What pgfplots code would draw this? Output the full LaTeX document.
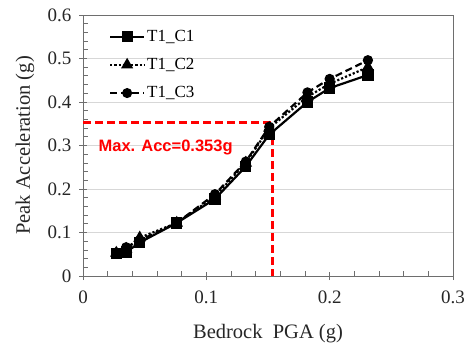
\documentclass[border=0pt]{standalone}
\usepackage{pgfplots}
\pgfplotsset{compat=1.18}
\usepackage{fontspec}
\setmainfont{Liberation Serif}
\newfontfamily\redsans{Liberation Sans}
\usetikzlibrary{calc}
\definecolor{axgray}{RGB}{110,110,110}
\definecolor{gridgray}{RGB}{215,215,215}
\pgfplotstableread{
x c1 c2 c3
0.027 0.052 0.053 0.054
0.035 0.055 0.062 0.066
0.046 0.077 0.088 0.082
0.076 0.122 0.122 0.122
0.107 0.177 0.183 0.188
0.132 0.252 0.260 0.263
0.151 0.325 0.340 0.343
0.182 0.400 0.412 0.422
0.200 0.432 0.442 0.453
0.231 0.462 0.480 0.496
}\data
\begin{document}
\begin{tikzpicture}
\begin{axis}[
  scale only axis,
  width=370pt, height=261pt,
  xmin=0, xmax=0.3, ymin=0, ymax=0.6,
  xtick={0,0.1,0.2,0.3}, ytick={0,0.1,...,0.6},
  xticklabels={0,0.1,0.2,0.3},
  yticklabels={0,0.1,0.2,0.3,0.4,0.5,0.6},
  /pgf/number format/assume math mode=true,
  minor x tick num=4, minor y tick num=4,
  tick pos=left,
  tick align=inside,
  major tick length=8pt, minor tick length=5pt,
  every major x tick/.append style={yshift=-4pt},
  every major y tick/.append style={xshift=-4pt},
  axis line style={axgray, line width=0.9pt},
  every tick/.style={axgray, line width=0.8pt},
  ymajorgrids, grid style={gridgray, line width=0.8pt},
  ticklabel style={font=\rmfamily\fontsize{19}{22}\selectfont, text=black!85},
  yticklabel style={xshift=-8pt},
  xticklabel style={yshift=-11pt},
  xlabel={Bedrock\ \ PGA (g)},
  ylabel={Peak Acceleration (g)},
  label style={font=\rmfamily\fontsize{20.5}{24}\selectfont, text=black!85},
  xlabel style={at={(axis description cs:0.5,-0.222)}, anchor=center},
  ylabel style={at={(axis description cs:-0.157,0.5)}, anchor=center, rotate=0},
  legend style={draw=none, fill=none, at={(axis description cs:0.062,0.958)}, anchor=north west,
    font=\rmfamily\fontsize{17}{20}\selectfont, row sep=11.5pt,
    /tikz/every even column/.append style={column sep=8pt}},
  legend cell align=left,
  legend image code/.code={
    \draw[mark repeat=2,mark phase=2,#1] plot coordinates {(0pt,0pt) (17pt,0pt) (34pt,0pt)};
  },
  legend image post style={line width=2pt},
]
\addplot[black, line width=2.2pt, mark=square*, mark size=4.5pt, mark options={solid}] table[x=x,y=c1] {\data};
\addlegendentry{T1\_C1}
\addplot[black, line width=2.2pt, dotted, mark=triangle*, mark size=5pt, mark options={solid}] table[x=x,y=c2] {\data};
\addlegendentry{T1\_C2}
\addplot[black, line width=2.2pt, dashed, dash pattern=on 7pt off 4pt, mark=*, mark size=4pt, mark options={solid}] table[x=x,y=c3] {\data};
\addlegendentry{T1\_C3}
\addplot[red, line width=2.4pt, dash pattern=on 8pt off 4pt, forget plot] coordinates {(0,0.353) (0.1535,0.353) (0.1535,0)};
\node[red, anchor=west, font=\redsans\bfseries\fontsize{16.5}{19}\selectfont, inner sep=0pt] at (axis cs:0.0125,0.295) {Max. Acc=0.353g};
\end{axis}
\pgfresetboundingbox
\path ($(current axis.south west)+(-83pt,-69pt)$) rectangle ($(current axis.north east)+(19pt,15pt)$);
\end{tikzpicture}
\end{document}
